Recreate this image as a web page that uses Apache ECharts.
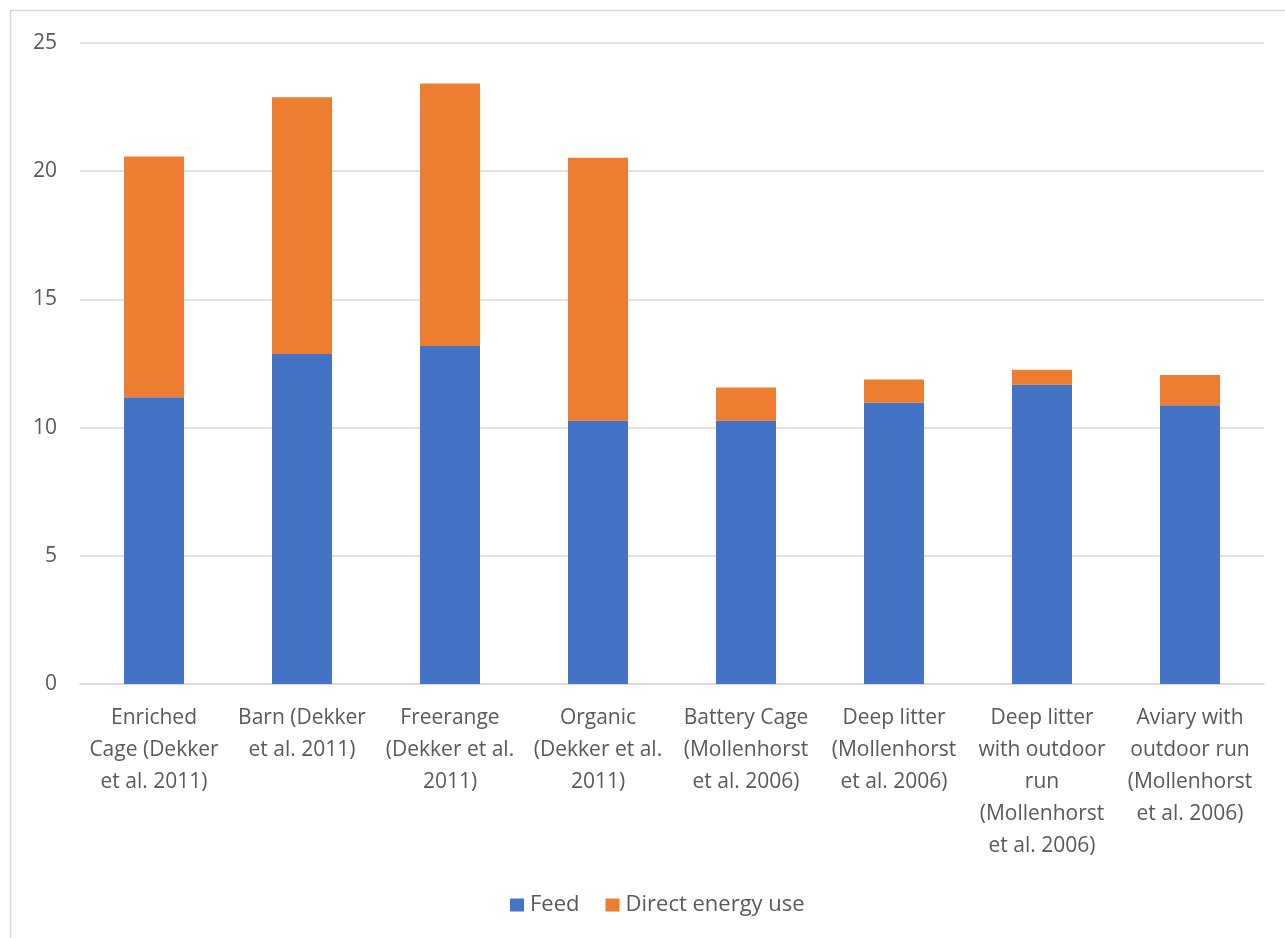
<!DOCTYPE html>
<html>
<head>
<meta charset="utf-8">
<script src="https://cdn.jsdelivr.net/npm/echarts@6/dist/echarts.min.js"></script>
<style>
html,body{margin:0;padding:0;background:#fff;}
#chart{width:1285px;height:938px;}
</style>
</head>
<body>
<div id="chart"></div>
<script>
const categories = [
  "Enriched\nCage (Dekker\net al. 2011)",
  "Barn (Dekker\net al. 2011)",
  "Freerange\n(Dekker et al.\n2011)",
  "Organic\n(Dekker et al.\n2011)",
  "Battery Cage\n(Mollenhorst\net al. 2006)",
  "Deep litter\n(Mollenhorst\net al. 2006)",
  "Deep litter\nwith outdoor\nrun\n(Mollenhorst\net al. 2006)",
  "Aviary with\noutdoor run\n(Mollenhorst\net al. 2006)"
];
const feed = [11.18, 12.87, 13.18, 10.27, 10.27, 10.97, 11.67, 10.87];
const directEnergy = [9.39, 10.01, 10.24, 10.25, 1.29, 0.91, 0.59, 1.18];
const seriesNames = ["Feed", "Direct energy use"];

const chart = echarts.init(document.getElementById('chart'), null, {renderer: 'canvas'});
const FONT = "'Open Sans', 'Noto Sans', sans-serif";
chart.setOption({
  animation: false,
  backgroundColor: '#ffffff',
  textStyle: {fontFamily: FONT},
  graphic: [{
    type: 'rect',
    shape: {x: 10.5, y: 10.5, width: 1290, height: 940},
    style: {fill: 'none', stroke: '#d9d9d9', lineWidth: 1.5},
    silent: true
  }],
  grid: {left: 80, right: 21, top: 43, bottom: 254, containLabel: false},
  legend: {
    data: seriesNames,
    left: 505,
    top: 889,
    itemWidth: 14,
    itemHeight: 13,
    itemGap: 26,
    icon: 'rect',
    textStyle: {fontFamily: FONT, fontSize: 22, color: '#595959', padding: [0, 0, 0, 1]}
  },
  xAxis: {
    type: 'category',
    data: categories,
    axisLine: {lineStyle: {color: '#d9d9d9', width: 1.5}},
    axisTick: {show: false},
    axisLabel: {
      interval: 0,
      fontFamily: FONT,
      fontSize: 21,
      lineHeight: 32,
      color: '#595959',
      margin: 18,
      align: 'center'
    }
  },
  yAxis: {
    type: 'value',
    min: 0,
    max: 25,
    interval: 5,
    axisLine: {show: false},
    axisTick: {show: false},
    splitLine: {lineStyle: {color: '#d9d9d9', width: 1.5}},
    axisLabel: {fontFamily: FONT, fontSize: 21, color: '#595959', margin: 23}
  },
  series: [
    {
      name: seriesNames[0],
      type: 'bar',
      stack: 'total',
      data: feed,
      barWidth: 60,
      itemStyle: {color: '#4472c4'}
    },
    {
      name: seriesNames[1],
      type: 'bar',
      stack: 'total',
      data: directEnergy,
      barWidth: 60,
      itemStyle: {color: '#ed7d31'}
    }
  ]
});
</script>
</body>
</html>
